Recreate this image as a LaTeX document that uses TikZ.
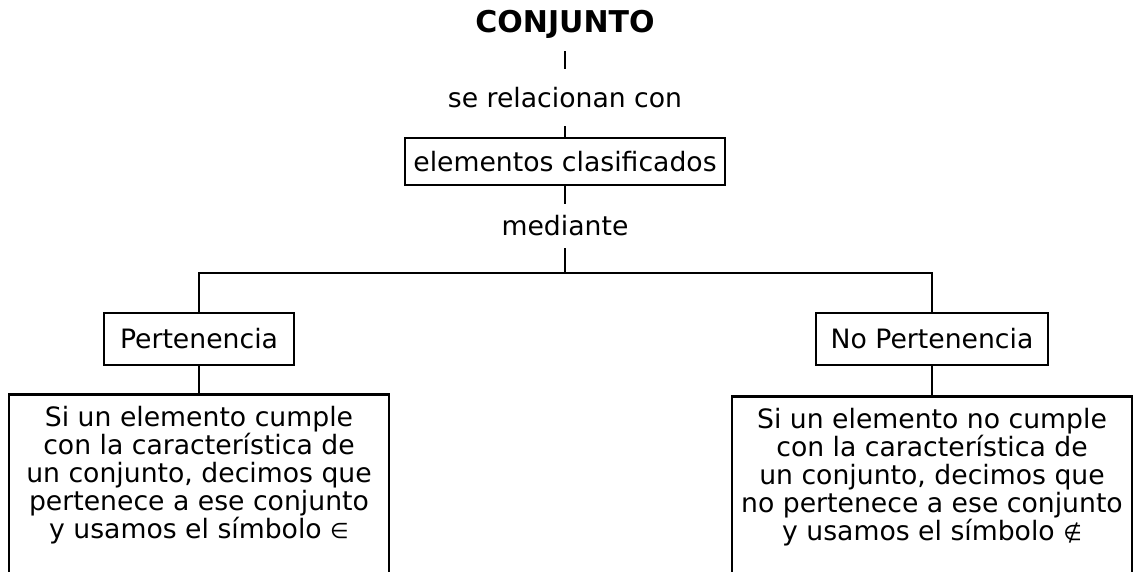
\documentclass[tikz,border=0pt]{standalone}
\usepackage{fontspec}
\setmainfont{DejaVu Sans}
\newcommand{\defbody}[2]{\parbox[t][200pt][t]{#1}{\centering #2}}
\newcommand{\smallsym}[1]{{\fontsize{16pt}{16pt}\selectfont #1}}

\begin{document}
\begin{tikzpicture}[x=0.75pt, y=-0.75pt, line width=1.9pt,
  word/.style={inner sep=0pt, font=\fontsize{20pt}{21pt}\selectfont},
  box/.style={draw, inner sep=0pt, font=\fontsize{20pt}{21pt}\selectfont},
  defbox/.style={draw, anchor=north, inner xsep=0pt, inner ysep=8.8pt, font=\fontsize{20pt}{21pt}\selectfont}]
  \clip (0,0) rectangle (1138,571);

  \node[word, font=\fontsize{22.5pt}{24pt}\selectfont\bfseries, minimum height=39pt] (conj) at (565,24) {CONJUNTO};
  \node[word, minimum height=41.25pt] (rel) at (565,97.5) {se relacionan con};
  \node[box, minimum width=240pt, minimum height=35.25pt] (elem) at (565,161.5) {elementos clasificados};
  \node[word, minimum height=31.5pt] (med) at (565,226) {mediante};
  \coordinate (bar) at (565,273);

  \node[box, minimum width=142.5pt, minimum height=39pt] (pert) at (199,339) {Pertenencia};
  \node[box, minimum width=174pt, minimum height=39pt] (nopert) at (932,339) {No Pertenencia};

  \node[defbox] (defl) at (199,393) {\defbody{285pt}{Si un elemento cumple\\ con la característica de\\ un conjunto, decimos que\\ pertenece a ese conjunto\\ y usamos el símbolo \smallsym{∈}}};
  \node[defbox] (defr) at (932,395) {\defbody{300pt}{Si un elemento no cumple\\ con la característica de\\ un conjunto, decimos que\\ no pertenece a ese conjunto\\ y usamos el símbolo \smallsym{∉}}};

  \draw (conj) -- (rel);
  \draw (rel) -- (elem);
  \draw (elem) -- (med);
  \draw (med) -- (bar);
  \draw (pert) |- (bar) -| (nopert);
  \draw (pert) -- (defl);
  \draw (nopert) -- (defr);
\end{tikzpicture}
\end{document}
